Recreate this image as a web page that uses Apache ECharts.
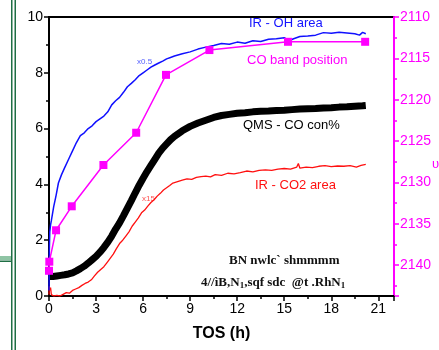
<!DOCTYPE html>
<html>
<head>
<meta charset="utf-8">
<script src="https://cdn.jsdelivr.net/npm/echarts@6/dist/echarts.min.js"></script>
<style>
html, body { margin: 0; padding: 0; background: #fff; }
#graph { width: 439px; height: 350px; }
</style>
</head>
<body>
<div id="graph"></div>
<script>
// x ticks (h)
var tosTicks = [0, 3, 6, 9, 12, 15, 18, 21];

// IR - OH area (x0.5), [TOS, value]
var ohArea = [[0,0.2],[0.02,1.6],[0.05,2.3],[0.1,2.55],[0.15,2.7],[0.2,2.65],[0.3,3.2],[0.45,3.6],[0.6,4.05],[0.8,4.35],
    [1.0,4.6],[1.25,4.9],[1.5,5.2],[1.75,5.5],[2.0,5.75],[2.25,5.85],[2.5,6.0],[2.75,6.1],[3.0,6.25],[3.25,6.35],
    [3.5,6.45],[3.75,6.6],[4.0,6.85],[4.25,7.0],[4.5,7.12],[4.75,7.3],[5.0,7.5],[5.25,7.62],[5.5,7.75],[5.75,7.9],
    [6.0,8.0],[6.25,8.1],[6.5,8.2],[6.75,8.28],[7.0,8.35],[7.25,8.42],[7.5,8.5],[7.75,8.55],[8.0,8.6],[8.5,8.68],
    [9.0,8.75],[9.5,8.85],[10.0,8.92],[10.5,8.98],[11.0,9.05],[11.5,9.02],[12.0,9.1],[12.5,9.06],[13.0,9.15],[13.5,9.12],
    [14.0,9.2],[14.5,9.22],[15.0,9.26],[15.3,9.15],[15.6,9.22],[16.0,9.3],[16.5,9.32],[17.0,9.35],[17.5,9.44],[18.0,9.42],
    [18.5,9.45],[19.0,9.43],[19.5,9.4],[19.8,9.35],[20.0,9.45],[20.2,9.4]];

// QMS - CO con%
var coConc = [[0,0.7],[0.25,0.7],[0.5,0.72],[0.75,0.74],[1.0,0.76],[1.25,0.79],[1.5,0.83],[1.75,0.9],[2.0,0.98],[2.25,1.07],
    [2.5,1.18],[2.75,1.3],[3.0,1.42],[3.25,1.57],[3.5,1.74],[3.75,1.93],[4.0,2.15],[4.25,2.4],[4.5,2.62],[4.75,2.88],
    [5.0,3.15],[5.25,3.42],[5.5,3.7],[5.75,3.97],[6.0,4.22],[6.25,4.46],[6.5,4.68],[6.75,4.9],[7.0,5.12],[7.25,5.3],
    [7.5,5.45],[7.75,5.6],[8.0,5.72],[8.5,5.92],[9.0,6.08],[9.5,6.2],[10.0,6.3],[10.5,6.4],[11.0,6.47],[11.5,6.51],
    [12.0,6.55],[12.5,6.57],[13.0,6.6],[13.5,6.62],[14.0,6.63],[14.5,6.65],[15.0,6.66],[15.5,6.68],[16.0,6.7],[16.5,6.71],
    [17.0,6.72],[17.5,6.74],[18.0,6.75],[18.5,6.77],[19.0,6.78],[19.5,6.8],[20.0,6.82],[20.2,6.83]];

// IR - CO2 area (x15)
var co2Area = [[0,0.05],[0.02,0.35],[0.05,0.2],[0.1,0.3],[0.15,0.05],[0.3,0.0],[0.5,0.02],[0.7,0.0],[0.9,0.06],[1.1,0.12],
    [1.3,0.1],[1.5,0.2],[1.7,0.25],[1.9,0.3],[2.1,0.38],[2.3,0.45],[2.5,0.5],[2.7,0.58],[2.9,0.72],[3.1,0.85],
    [3.3,0.95],[3.5,1.05],[3.7,1.2],[3.9,1.35],[4.1,1.5],[4.3,1.7],[4.5,1.88],[4.7,2.0],[4.9,2.15],[5.1,2.3],
    [5.3,2.5],[5.5,2.65],[5.7,2.8],[5.9,2.98],[6.1,3.08],[6.3,3.22],[6.5,3.35],[6.7,3.45],[6.9,3.58],[7.1,3.68],
    [7.3,3.8],[7.5,3.88],[7.7,3.96],[7.9,4.05],[8.2,4.1],[8.5,4.15],[8.8,4.2],[9.1,4.18],[9.4,4.25],[9.7,4.28],
    [10.0,4.3],[10.3,4.27],[10.6,4.35],[11.0,4.32],[11.4,4.4],[11.8,4.38],[12.2,4.42],[12.6,4.48],[13.0,4.45],[13.4,4.5],
    [13.8,4.52],[14.2,4.5],[14.6,4.55],[15.0,4.57],[15.4,4.55],[15.8,4.62],[15.9,4.75],[16.0,4.58],[16.4,4.62],[16.8,4.6],
    [17.2,4.65],[17.6,4.67],[18.0,4.64],[18.4,4.66],[18.8,4.65],[19.2,4.67],[19.6,4.62],[19.9,4.68],[20.2,4.72]];

// CO band position (cm-1), right axis
var coBand = [[0,2140.7],[0.02,2139.6],[0.45,2135.8],[1.45,2132.9],[3.47,2127.9],[5.56,2124.0],[7.46,2117.0],
    [10.23,2114.0],[15.24,2113.0],[20.16,2113.0]];

var dom = document.getElementById("graph");
var myChart = echarts.init(dom);
var font = 'Liberation Sans, Arial, sans-serif';

var option = {
    animation: false,
    grid: {
        left: 49, right: 45, top: 17, bottom: 54,
        show: true, borderColor: '#000', borderWidth: 2
    },
    xAxis: {
        type: 'value', min: 0, max: 22, interval: 3,
        name: 'TOS (h)', nameLocation: 'middle', nameGap: 30,
        nameTextStyle: { fontFamily: font, fontSize: 16, fontWeight: 'bold', color: '#000' },
        axisLine: { show: true, lineStyle: { color: '#000', width: 2 } },
        axisTick: { show: true, length: 5, lineStyle: { color: '#000', width: 1.5 } },
        minorTick: { show: true, splitNumber: 2, length: 3, lineStyle: { color: '#000', width: 1.5 } },
        axisLabel: {
            showMaxLabel: false, fontFamily: font, fontSize: 14, color: '#000', margin: 6,
            formatter: function (v) { return tosTicks.indexOf(v) >= 0 ? String(v) : ''; }
        },
        splitLine: { show: false }
    },
    yAxis: [{
        type: 'value', min: 0, max: 10, interval: 2, position: 'left',
        axisLine: { show: true, lineStyle: { color: '#000', width: 2 } },
        axisTick: { show: true, length: 5, lineStyle: { color: '#000', width: 1.5 } },
        minorTick: { show: true, splitNumber: 2, length: 3, lineStyle: { color: '#000', width: 1.5 } },
        axisLabel: { fontFamily: font, fontSize: 14, color: '#000', margin: 6 },
        splitLine: { show: false }
    }, {
        type: 'value', min: 2110, max: 2143.75, interval: 5, inverse: true, position: 'right',
        axisLine: { show: true, lineStyle: { color: '#ff00ff', width: 2 } },
        axisTick: { show: true, length: 5, lineStyle: { color: '#ff00ff', width: 1.5 } },
        minorTick: { show: true, splitNumber: 2, length: 3, lineStyle: { color: '#ff00ff', width: 1.5 } },
        axisLabel: {
            showMaxLabel: false, fontFamily: font, fontSize: 14, color: '#ff00ff', margin: 6,
            formatter: function (v) { return String(v); }
        },
        splitLine: { show: false }
    }],
    series: [{
        name: 'IR - CO2 area', type: 'line', data: co2Area, showSymbol: false,
        lineStyle: { color: '#ff1010', width: 1.3 }, z: 2
    }, {
        name: 'QMS - CO con%', type: 'line', data: coConc, showSymbol: false,
        lineStyle: { color: '#000', width: 7 }, z: 3
    }, {
        name: 'IR - OH area', type: 'line', data: ohArea, showSymbol: false,
        lineStyle: { color: '#1010ff', width: 1.5 }, z: 4
    }, {
        name: 'CO band position', type: 'line', data: coBand, yAxisIndex: 1,
        symbol: 'rect', symbolSize: 8,
        itemStyle: { color: '#ff00ff' },
        lineStyle: { color: '#ff00ff', width: 1.5 }, z: 5
    }],
    graphic: [
        // window edge artefacts at the left
        { type: 'rect', shape: { x: 11, y: 0, width: 1.5, height: 350 }, style: { fill: '#1f6f45' } },
        { type: 'rect', shape: { x: 14.5, y: 0, width: 1.5, height: 350 }, style: { fill: '#1f6f45' } },
        { type: 'rect', shape: { x: 0, y: 256, width: 11, height: 4 }, style: { fill: '#8fc4a4' } },
        { type: 'rect', shape: { x: 0, y: 260.5, width: 11, height: 1.5 }, style: { fill: '#1f6f45' } },
        // curve labels
        { type: 'text', left: 249, top: 17, style: { text: 'IR - OH area', fill: '#1414ff', font: '13px ' + font } },
        { type: 'text', left: 247, top: 54, style: { text: 'CO band position', fill: '#ff00ff', font: '13px ' + font } },
        { type: 'text', left: 243, top: 119, style: { text: 'QMS - CO con%', fill: '#000', font: '13px ' + font } },
        { type: 'text', left: 255, top: 179, style: { text: 'IR - CO2 area', fill: '#ff1010', font: '13px ' + font } },
        { type: 'text', left: 137, top: 58, style: { text: 'x0.5', fill: '#5560ff', font: '8px ' + font } },
        { type: 'text', left: 142, top: 195, style: { text: 'x15', fill: '#ff5050', font: '8px ' + font } },
        { type: 'text', left: 229, top: 254, style: { text: 'BN nwlc` shmmmm', fill: '#111', font: 'bold 13px Liberation Serif, serif' } },
        {
            type: 'text', left: 201, top: 276,
            style: {
                text: '4//ìB,N{s|1},sqf sdc  @t .RhN{s|1}', fill: '#111',
                font: 'bold 13px Liberation Serif, serif',
                rich: { s: { fontSize: 9, fontWeight: 'bold', fontFamily: 'Liberation Serif', fill: '#111', verticalAlign: 'bottom', padding: [6, 0, 0, 0] } }
            }
        },
        { type: 'text', left: 432, top: 158, style: { text: 'υ', fill: '#ff00ff', font: '13px ' + font } }
    ]
};
myChart.setOption(option, true);
</script>
</body>
</html>
